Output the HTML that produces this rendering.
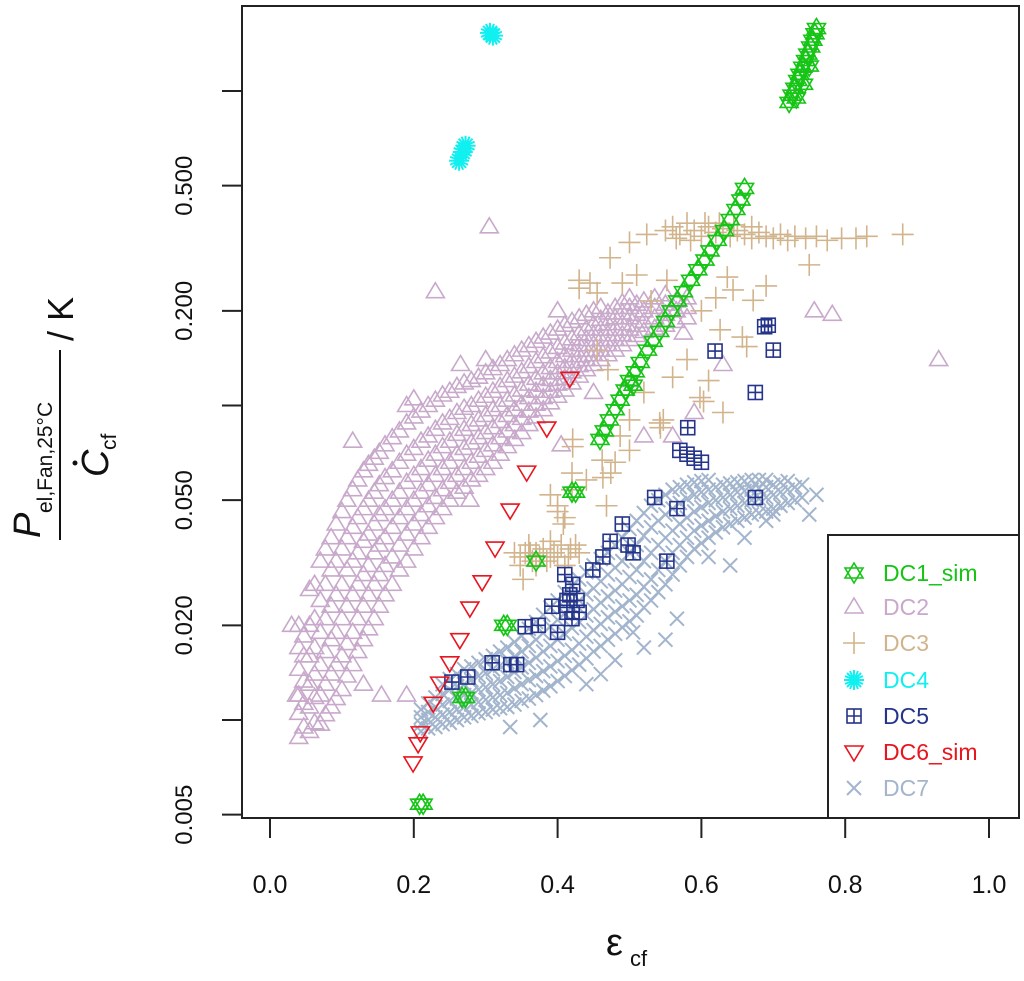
<!DOCTYPE html>
<html><head><meta charset="utf-8"><style>
html,body{margin:0;padding:0;background:#fff;}
svg{display:block;font-family:"Liberation Sans",Arial,sans-serif;}
</style></head><body>
<svg id="chart" width="1024" height="981" viewBox="0 0 1024 981" xmlns="http://www.w3.org/2000/svg">
<rect x="0" y="0" width="1024" height="981" fill="#fff"/>
<g id="marks"></g>
<rect x="242" y="6" width="777" height="812" fill="none" stroke="#222" stroke-width="2"/>
<g id="axes"></g>
<g transform="translate(60,445) rotate(-90)">
  <text x="-93" y="-20" font-size="38" font-style="italic" fill="#111">P</text>
  <text x="-68" y="-8" font-size="21" fill="#111">el,Fan,25°C</text>
  <line x1="-95" y1="0" x2="95" y2="0" stroke="#111" stroke-width="2"/>
  <text x="-32" y="48" font-size="38" font-style="italic" fill="#111">C</text>
  <circle cx="-18" cy="15" r="2.5" fill="#111"/>
  <text x="-5" y="56" font-size="21" fill="#111">cf</text>
  <text x="104" y="13" font-size="36" fill="#111">/ K</text>
</g>
<g>
  <text x="606" y="955" font-size="38" fill="#111">ε</text>
  <text x="630" y="966" font-size="22" fill="#111">cf</text>
</g>
<g>
  <rect x="828" y="535" width="191" height="283" fill="#fff" stroke="#222" stroke-width="2"/>
  <g id="legendItems"></g>
</g>
</svg>
<script>
const dc1 = [[0.459,0.078],[0.465,0.083],[0.472,0.09],[0.48,0.097],[0.487,0.104],[0.494,0.112],[0.5,0.12],[0.505,0.116],[0.508,0.128],[0.515,0.137],[0.525,0.15],[0.533,0.16],[0.542,0.172],[0.55,0.185],[0.558,0.2],[0.567,0.215],[0.575,0.23],[0.585,0.25],[0.595,0.27],[0.605,0.29],[0.612,0.31],[0.622,0.335],[0.632,0.36],[0.64,0.39],[0.648,0.42],[0.655,0.45],[0.66,0.49],[0.722,0.92],[0.726,0.97],[0.73,1.02],[0.734,1.08],[0.737,1.13],[0.741,1.19],[0.745,1.25],[0.748,1.31],[0.752,1.38],[0.755,1.45],[0.758,1.52],[0.76,1.58],[0.732,0.95],[0.742,1.05],[0.75,1.2],[0.42,0.053],[0.425,0.053],[0.325,0.02],[0.33,0.02],[0.267,0.0118],[0.272,0.0118],[0.208,0.0054],[0.213,0.0054],[0.37,0.032]];
const dc2 = [
[0.04,0.0088],[0.04,0.0105],[0.04,0.012],[0.04,0.0145],[0.04,0.017],[0.04,0.02],
[0.055,0.0092],[0.055,0.011],[0.055,0.013],[0.055,0.016],[0.055,0.02],[0.055,0.026],
[0.07,0.0097],[0.07,0.012],[0.07,0.015],[0.07,0.019],[0.07,0.024],[0.07,0.032],
[0.085,0.011],[0.085,0.014],[0.085,0.018],[0.085,0.023],[0.085,0.03],[0.085,0.038],
[0.1,0.0125],[0.1,0.016],[0.1,0.021],[0.1,0.027],[0.1,0.035],[0.1,0.046],
[0.115,0.015],[0.115,0.019],[0.115,0.025],[0.115,0.032],[0.115,0.041],[0.115,0.054],
[0.13,0.018],[0.13,0.023],[0.13,0.029],[0.13,0.037],[0.13,0.047],[0.13,0.062],
[0.145,0.021],[0.145,0.027],[0.145,0.034],[0.145,0.042],[0.145,0.053],[0.145,0.068],
[0.16,0.025],[0.16,0.031],[0.16,0.038],[0.16,0.047],[0.16,0.059],[0.16,0.075],
[0.18,0.03],[0.18,0.036],[0.18,0.044],[0.18,0.053],[0.18,0.066],[0.18,0.083],
[0.2,0.035],[0.2,0.042],[0.2,0.05],[0.2,0.06],[0.2,0.073],[0.2,0.092],
[0.22,0.041],[0.22,0.048],[0.22,0.056],[0.22,0.067],[0.22,0.08],[0.22,0.1],
[0.24,0.047],[0.24,0.054],[0.24,0.063],[0.24,0.074],[0.24,0.088],[0.24,0.108],
[0.26,0.053],[0.26,0.06],[0.26,0.07],[0.26,0.081],[0.26,0.095],[0.26,0.115],
[0.28,0.058],[0.28,0.066],[0.28,0.076],[0.28,0.087],[0.28,0.1],[0.28,0.12],
[0.3,0.063],[0.3,0.072],[0.3,0.082],[0.3,0.093],[0.3,0.107],[0.3,0.127],
[0.32,0.07],[0.32,0.079],[0.32,0.089],[0.32,0.1],[0.32,0.115],[0.32,0.135],
[0.34,0.078],[0.34,0.087],[0.34,0.097],[0.34,0.108],[0.34,0.124],[0.34,0.145],
[0.36,0.087],[0.36,0.096],[0.36,0.106],[0.36,0.117],[0.36,0.133],[0.36,0.155],
[0.38,0.097],[0.38,0.106],[0.38,0.116],[0.38,0.127],[0.38,0.143],[0.38,0.165],
[0.4,0.107],[0.4,0.117],[0.4,0.127],[0.4,0.138],[0.4,0.153],[0.4,0.175],
[0.42,0.118],[0.42,0.128],[0.42,0.138],[0.42,0.15],[0.42,0.163],[0.42,0.185],
[0.44,0.13],[0.44,0.14],[0.44,0.15],[0.44,0.162],[0.44,0.175],[0.44,0.195],
[0.46,0.14],[0.46,0.15],[0.46,0.162],[0.46,0.175],[0.46,0.188],[0.46,0.205],
[0.48,0.15],[0.48,0.162],[0.48,0.175],[0.48,0.19],[0.48,0.205],
[0.5,0.162],[0.5,0.175],[0.5,0.19],[0.5,0.205],[0.5,0.22],
[0.52,0.172],[0.52,0.185],[0.52,0.2],[0.52,0.215],
[0.55,0.18],[0.55,0.195],[0.55,0.21],[0.55,0.225],
[0.58,0.19],[0.58,0.205],[0.58,0.22],
[0.047,0.0095],[0.047,0.0113],[0.047,0.0133],[0.047,0.016],[0.047,0.0185],
[0.062,0.0098],[0.062,0.0118],[0.062,0.014],[0.062,0.017],[0.062,0.021],[0.062,0.027],
[0.077,0.0104],[0.077,0.013],[0.077,0.0165],[0.077,0.021],[0.077,0.027],[0.077,0.035],
[0.092,0.0117],[0.092,0.015],[0.092,0.019],[0.092,0.025],[0.092,0.032],[0.092,0.042],
[0.107,0.0138],[0.107,0.0175],[0.107,0.023],[0.107,0.03],[0.107,0.038],[0.107,0.05],
[0.122,0.0165],[0.122,0.021],[0.122,0.027],[0.122,0.034],[0.122,0.044],[0.122,0.058],
[0.137,0.0195],[0.137,0.025],[0.137,0.031],[0.137,0.039],[0.137,0.05],[0.137,0.065],
[0.152,0.023],[0.152,0.029],[0.152,0.036],[0.152,0.045],[0.152,0.056],[0.152,0.071],
[0.17,0.027],[0.17,0.033],[0.17,0.041],[0.17,0.05],[0.17,0.062],[0.17,0.079],
[0.19,0.032],[0.19,0.039],[0.19,0.047],[0.19,0.057],[0.19,0.07],[0.19,0.088],
[0.21,0.038],[0.21,0.045],[0.21,0.053],[0.21,0.063],[0.21,0.077],[0.21,0.096],
[0.23,0.044],[0.23,0.051],[0.23,0.06],[0.23,0.07],[0.23,0.084],[0.23,0.104],
[0.25,0.05],[0.25,0.057],[0.25,0.066],[0.25,0.077],[0.25,0.091],[0.25,0.111],
[0.27,0.055],[0.27,0.063],[0.27,0.073],[0.27,0.084],[0.27,0.098],[0.27,0.118],
[0.29,0.06],[0.29,0.069],[0.29,0.079],[0.29,0.09],[0.29,0.104],[0.29,0.123],
[0.31,0.066],[0.31,0.075],[0.31,0.085],[0.31,0.097],[0.31,0.111],[0.31,0.131],
[0.33,0.074],[0.33,0.083],[0.33,0.093],[0.33,0.104],[0.33,0.12],[0.33,0.14],
[0.35,0.082],[0.35,0.091],[0.35,0.101],[0.35,0.112],[0.35,0.128],[0.35,0.15],
[0.37,0.092],[0.37,0.101],[0.37,0.111],[0.37,0.122],[0.37,0.138],[0.37,0.16],
[0.39,0.102],[0.39,0.111],[0.39,0.121],[0.39,0.132],[0.39,0.148],[0.39,0.17],
[0.41,0.112],[0.41,0.122],[0.41,0.132],[0.41,0.144],[0.41,0.158],[0.41,0.18],
[0.43,0.124],[0.43,0.134],[0.43,0.144],[0.43,0.156],[0.43,0.169],[0.43,0.19],
[0.45,0.135],[0.45,0.145],[0.45,0.156],[0.45,0.168],[0.45,0.181],[0.45,0.2],
[0.47,0.145],[0.47,0.156],[0.47,0.168],[0.47,0.182],[0.47,0.197],
[0.49,0.156],[0.49,0.168],[0.49,0.182],[0.49,0.197],[0.49,0.212],
[0.51,0.167],[0.51,0.18],[0.51,0.195],[0.51,0.21],
[0.535,0.176],[0.535,0.19],[0.535,0.205],[0.535,0.22],
[0.565,0.185],[0.565,0.2],[0.565,0.215],
[0.305,0.37],[0.23,0.23],[0.93,0.14],[0.757,0.2],[0.782,0.195],[0.115,0.077],[0.19,0.1],[0.2,0.105],[0.265,0.135],[0.3,0.14],[0.03,0.02],[0.037,0.012],[0.19,0.012],[0.155,0.012],[0.13,0.013],[0.278,0.05],[0.4,0.2],[0.575,0.17],[0.63,0.135],[0.59,0.095],[0.56,0.08],[0.52,0.08],[0.5,0.12],[0.405,0.075],[0.45,0.11]];
const dc3 = [[0.473,0.295],[0.5,0.33],[0.524,0.35],[0.795,0.34],[0.88,0.35],[0.75,0.28],[0.69,0.24],[0.43,0.236],[0.455,0.228],[0.552,0.25],[0.636,0.256],[0.672,0.216],[0.644,0.233],[0.626,0.174],[0.663,0.154],[0.657,0.165],[0.598,0.106],[0.56,0.123],[0.542,0.088],[0.487,0.08],[0.421,0.074],
[0.55,0.36],[0.56,0.37],[0.57,0.35],[0.58,0.38],[0.59,0.36],[0.6,0.345],[0.61,0.37],[0.62,0.355],[0.63,0.365],[0.64,0.345],[0.65,0.36],[0.66,0.35],[0.67,0.34],[0.68,0.355],[0.69,0.345],[0.7,0.34],[0.71,0.35],[0.72,0.335],[0.73,0.345],[0.745,0.34],[0.76,0.345],[0.775,0.335],[0.815,0.34],[0.83,0.345],[0.565,0.34],[0.585,0.335],[0.605,0.38],[0.625,0.38],[0.645,0.375],[0.67,0.37],
[0.543,0.085],[0.603,0.103],[0.5,0.072],[0.48,0.066],[0.463,0.059],[0.42,0.061],[0.44,0.058],[0.4,0.048],[0.468,0.048],[0.42,0.054],[0.41,0.044],[0.39,0.037],[0.362,0.034],[0.348,0.033],[0.375,0.033],[0.4,0.033],[0.418,0.035],[0.348,0.031],[0.352,0.028],[0.37,0.034],[0.385,0.032],[0.41,0.031],[0.43,0.034],[0.421,0.078],[0.5,0.09],[0.547,0.09],[0.462,0.067],[0.474,0.061],[0.39,0.052],[0.4,0.046],[0.408,0.042],[0.445,0.245],[0.43,0.25],[0.49,0.245],[0.51,0.26],[0.53,0.215],[0.6,0.2],[0.62,0.22],[0.455,0.15],[0.47,0.13],[0.58,0.14],[0.52,0.11],[0.61,0.12],[0.63,0.095],
[0.355,0.034],[0.365,0.032],[0.38,0.035],[0.395,0.034],[0.405,0.036],[0.36,0.036],[0.39,0.033],[0.415,0.033],[0.425,0.036],[0.34,0.034],[0.37,0.031]];
const dc4 = [[0.306,1.53],[0.31,1.5],[0.272,0.67],[0.268,0.64],[0.263,0.6]];
const dc5 = [[0.693,0.18],[0.688,0.178],[0.7,0.15],[0.619,0.149],[0.675,0.11],[0.581,0.085],[0.57,0.072],[0.58,0.07],[0.59,0.068],[0.6,0.066],[0.675,0.051],[0.535,0.051],[0.566,0.047],[0.49,0.042],[0.473,0.037],[0.498,0.036],[0.505,0.034],[0.552,0.032],[0.463,0.033],[0.449,0.03],[0.41,0.029],[0.421,0.027],[0.417,0.025],[0.413,0.024],[0.427,0.024],[0.392,0.023],[0.43,0.022],[0.413,0.022],[0.42,0.021],[0.355,0.0198],[0.373,0.02],[0.4,0.019],[0.309,0.0152],[0.343,0.015],[0.335,0.015],[0.253,0.0132],[0.275,0.0137]];
const dc6 = [[0.417,0.122],[0.385,0.0848],[0.357,0.0614],[0.334,0.0465],[0.313,0.0352],[0.295,0.0275],[0.278,0.0227],[0.264,0.018],[0.25,0.0152],[0.236,0.0131],[0.227,0.0113],[0.209,0.0091],[0.206,0.0084],[0.199,0.0073]];
const dc7 = [
[0.21,0.0092],[0.21,0.0097],[0.21,0.0102],[0.21,0.0108],
[0.23,0.0095],[0.23,0.0102],[0.23,0.011],[0.23,0.0118],
[0.25,0.0098],[0.25,0.0106],[0.25,0.0115],[0.25,0.0125],[0.25,0.0135],
[0.27,0.0102],[0.27,0.011],[0.27,0.012],[0.27,0.013],[0.27,0.0145],
[0.29,0.0105],[0.29,0.0114],[0.29,0.0125],[0.29,0.0138],[0.29,0.0152],
[0.31,0.0108],[0.31,0.0118],[0.31,0.013],[0.31,0.0145],[0.31,0.016],
[0.33,0.011],[0.33,0.0122],[0.33,0.0137],[0.33,0.0153],[0.33,0.017],
[0.35,0.0115],[0.35,0.013],[0.35,0.0147],[0.35,0.0165],[0.35,0.0185],
[0.37,0.012],[0.37,0.0138],[0.37,0.0158],[0.37,0.018],[0.37,0.0205],
[0.39,0.0128],[0.39,0.0148],[0.39,0.0172],[0.39,0.0198],[0.39,0.0228],
[0.41,0.0138],[0.41,0.016],[0.41,0.0188],[0.41,0.0218],[0.41,0.0255],
[0.43,0.015],[0.43,0.0175],[0.43,0.0205],[0.43,0.024],[0.43,0.028],
[0.45,0.0165],[0.45,0.0193],[0.45,0.0225],[0.45,0.0262],[0.45,0.031],
[0.47,0.018],[0.47,0.0212],[0.47,0.0247],[0.47,0.029],[0.47,0.034],
[0.49,0.0197],[0.49,0.023],[0.49,0.027],[0.49,0.032],[0.49,0.038],
[0.51,0.0215],[0.51,0.025],[0.51,0.03],[0.51,0.036],[0.51,0.043],
[0.53,0.024],[0.53,0.028],[0.53,0.034],[0.53,0.041],[0.53,0.048],
[0.55,0.027],[0.55,0.032],[0.55,0.038],[0.55,0.045],[0.55,0.052],
[0.57,0.031],[0.57,0.036],[0.57,0.042],[0.57,0.049],[0.57,0.055],
[0.59,0.035],[0.59,0.04],[0.59,0.046],[0.59,0.052],[0.59,0.057],
[0.61,0.038],[0.61,0.043],[0.61,0.049],[0.61,0.054],[0.61,0.058],
[0.63,0.041],[0.63,0.046],[0.63,0.051],[0.63,0.056],
[0.65,0.043],[0.65,0.048],[0.65,0.053],[0.65,0.057],
[0.67,0.045],[0.67,0.05],[0.67,0.054],[0.67,0.058],
[0.69,0.046],[0.69,0.051],[0.69,0.055],[0.69,0.058],
[0.71,0.048],[0.71,0.053],[0.71,0.057],
[0.73,0.05],[0.73,0.055],[0.74,0.051],[0.74,0.056],
[0.22,0.0094],[0.22,0.01],[0.22,0.0106],[0.22,0.0113],
[0.24,0.0097],[0.24,0.0104],[0.24,0.0112],[0.24,0.0121],[0.24,0.013],
[0.26,0.01],[0.26,0.0108],[0.26,0.0117],[0.26,0.0128],[0.26,0.014],
[0.28,0.0103],[0.28,0.0112],[0.28,0.0122],[0.28,0.0134],[0.28,0.0148],
[0.3,0.0106],[0.3,0.0116],[0.3,0.0127],[0.3,0.0141],[0.3,0.0156],
[0.32,0.0109],[0.32,0.012],[0.32,0.0133],[0.32,0.0149],[0.32,0.0165],
[0.34,0.0112],[0.34,0.0126],[0.34,0.0142],[0.34,0.0159],[0.34,0.0177],
[0.36,0.0117],[0.36,0.0134],[0.36,0.0152],[0.36,0.0172],[0.36,0.0195],
[0.38,0.0124],[0.38,0.0143],[0.38,0.0165],[0.38,0.0189],[0.38,0.0216],
[0.4,0.0133],[0.4,0.0154],[0.4,0.018],[0.4,0.0208],[0.4,0.024],
[0.42,0.0144],[0.42,0.0167],[0.42,0.0196],[0.42,0.0229],[0.42,0.0268],
[0.44,0.0157],[0.44,0.0184],[0.44,0.0215],[0.44,0.0251],[0.44,0.0295],
[0.46,0.0172],[0.46,0.0202],[0.46,0.0236],[0.46,0.0276],[0.46,0.0325],
[0.48,0.0188],[0.48,0.0221],[0.48,0.0258],[0.48,0.0305],[0.48,0.036],
[0.5,0.0206],[0.5,0.024],[0.5,0.0285],[0.5,0.034],[0.5,0.0405],
[0.52,0.0228],[0.52,0.0265],[0.52,0.032],[0.52,0.0385],[0.52,0.0455],
[0.54,0.0255],[0.54,0.03],[0.54,0.036],[0.54,0.043],[0.54,0.05],
[0.56,0.029],[0.56,0.034],[0.56,0.04],[0.56,0.047],[0.56,0.054],
[0.58,0.033],[0.58,0.038],[0.58,0.044],[0.58,0.0505],[0.58,0.056],
[0.6,0.0365],[0.6,0.0415],[0.6,0.0475],[0.6,0.053],[0.6,0.0575],
[0.62,0.0395],[0.62,0.0445],[0.62,0.05],[0.62,0.055],
[0.64,0.042],[0.64,0.047],[0.64,0.052],[0.64,0.0565],
[0.66,0.044],[0.66,0.049],[0.66,0.0535],[0.66,0.0575],
[0.68,0.0455],[0.68,0.0505],[0.68,0.0545],[0.68,0.058],
[0.7,0.047],[0.7,0.052],[0.7,0.056],
[0.72,0.049],[0.72,0.054],[0.72,0.0575],
[0.334,0.0095],[0.376,0.01],[0.55,0.018],[0.566,0.021],[0.61,0.033],[0.64,0.031],[0.505,0.019],[0.44,0.013],[0.48,0.0155],[0.46,0.014],[0.52,0.017],[0.66,0.038],[0.69,0.043],[0.7,0.045],[0.76,0.052],[0.75,0.045]];
const xTicks = [0, 0.2, 0.4, 0.6, 0.8, 1.0];
const xTickLabels = ["0.0","0.2","0.4","0.6","0.8","1.0"];
const yTicks = [0.005, 0.01, 0.02, 0.05, 0.1, 0.2, 0.5, 1.0];
const yTickLabels = ["0.005","","0.020","0.050","","0.200","0.500",""];
const seriesNames = ["DC1_sim","DC2","DC3","DC4","DC5","DC6_sim","DC7"];
const seriesColors = ["#16c416","#c8a9cb","#d2b48c","#10f0f0","#24348a","#e8141e","#a2b5cd"];

const NS = "http://www.w3.org/2000/svg";
function xs(x){ return 270 + 719 * x; }
function ys(v){ return 91 - 314.5 * Math.log10(v); }
function mk(tag, attrs, parent){
  const e = document.createElementNS(NS, tag);
  for (const k in attrs) e.setAttribute(k, attrs[k]);
  parent.appendChild(e);
  return e;
}
function marker(kind, cx, cy, color, parent){
  const g = mk('g', {stroke: color, fill: 'none', 'stroke-width': 1.6}, parent);
  if (kind === 'tri') {
    mk('polygon', {points: `${cx},${cy-9} ${cx+9},${cy+6} ${cx-9},${cy+6}`}, g);
  } else if (kind === 'dtri') {
    mk('polygon', {points: `${cx-9},${cy-6} ${cx+9},${cy-6} ${cx},${cy+9}`}, g);
  } else if (kind === 'star') {
    mk('polygon', {points: `${cx},${cy-10} ${cx+9},${cy+5} ${cx-9},${cy+5}`}, g);
    mk('polygon', {points: `${cx-9},${cy-5} ${cx+9},${cy-5} ${cx},${cy+10}`}, g);
  } else if (kind === 'plus') {
    mk('path', {d: `M${cx-11},${cy}H${cx+11}M${cx},${cy-11}V${cy+11}`}, g);
  } else if (kind === 'cross') {
    mk('path', {d: `M${cx-7},${cy-7}L${cx+7},${cy+7}M${cx-7},${cy+7}L${cx+7},${cy-7}`, 'stroke-width': 2}, g);
  } else if (kind === 'box') {
    mk('rect', {x: cx-7, y: cy-7, width: 14, height: 14}, g);
    mk('path', {d: `M${cx-7},${cy}H${cx+7}M${cx},${cy-7}V${cy+7}`}, g);
  } else if (kind === 'ast') {
    mk('path', {d: `M${cx-10},${cy}H${cx+10}M${cx},${cy-10}V${cy+10}M${cx-7},${cy-7}L${cx+7},${cy+7}M${cx-7},${cy+7}L${cx+7},${cy-7}M${cx-4},${cy-9}L${cx+4},${cy+9}M${cx+4},${cy-9}L${cx-4},${cy+9}M${cx-9},${cy-4}L${cx+9},${cy+4}M${cx-9},${cy+4}L${cx+9},${cy-4}`, 'stroke-width': 2}, g);
  }
  return g;
}
const kinds = ['star','tri','plus','ast','box','dtri','cross'];
const marks = document.getElementById('marks');
const order = [[1,dc2],[2,dc3],[6,dc7],[4,dc5],[5,dc6],[0,dc1],[3,dc4]];
order.forEach(([i, data]) => {
  const g = mk('g', {}, marks);
  
  
  data.forEach(p => {
    const m = marker(kinds[i], xs(p[0]), ys(p[1]), seriesColors[i], g);
    
    
  });
});
const axes = document.getElementById('axes');
xTicks.forEach((t, i) => {
  const x = xs(t);
  const l = mk('line', {x1: x, y1: 818, x2: x, y2: 838, stroke: '#222', 'stroke-width': 2}, axes);
  
  
  const tx = mk('text', {x: x, y: 893, 'font-size': 25, 'text-anchor': 'middle', fill: '#111'}, axes);
  tx.textContent = xTickLabels[i];
  
  
});
yTicks.forEach((t, i) => {
  const y = ys(t);
  const l = mk('line', {x1: 222, y1: y, x2: 242, y2: y, stroke: '#222', 'stroke-width': 2}, axes);
  
  
  if (yTickLabels[i]) {
    const tx = mk('text', {x: 0, y: 0, 'font-size': 24, 'text-anchor': 'middle', fill: '#111', transform: `translate(192,${y}) rotate(-90)`}, axes);
    tx.textContent = yTickLabels[i];
    
    
  }
});
const legendYs = [573, 607, 643, 680, 716, 752, 788];
const li = document.getElementById('legendItems');
seriesNames.forEach((n, i) => {
  const g = mk('g', {}, li);
  
  
  marker(kinds[i], 854, legendYs[i], seriesColors[i], g);
  const t = mk('text', {x: 883, y: legendYs[i] + 8, 'font-size': 23, fill: seriesColors[i]}, g);
  t.textContent = n;
});
</script>
</body></html>
